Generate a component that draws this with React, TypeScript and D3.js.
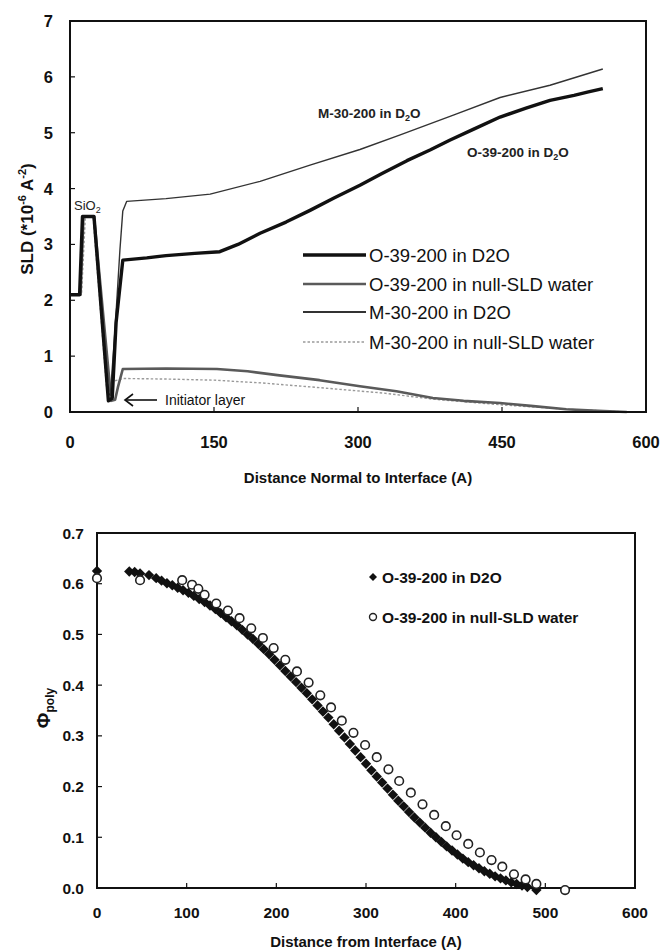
import React from "react";
import * as d3 from "d3";

// ---------- Top chart data (SLD profiles) ----------
const topXTicks = [0, 150, 300, 450, 600];
const topYTicks = [0, 1, 2, 3, 4, 5, 6, 7];

const o39D2O: [number, number][] = [
  [0, 2.1], [10, 2.1], [13, 3.5], [25, 3.5], [40, 0.2], [44, 0.25], [48, 1.6], [55, 2.72],
  [80, 2.76], [100, 2.8], [130, 2.84], [156, 2.87], [175, 3.0], [198, 3.2], [225, 3.4],
  [250, 3.61], [275, 3.83], [302, 4.06], [325, 4.27], [351, 4.5], [375, 4.69], [396, 4.87],
  [420, 5.06], [448, 5.28], [475, 5.44], [500, 5.58], [525, 5.67], [540, 5.73], [555, 5.79],
];
const o39Null: [number, number][] = [
  [0, 2.1], [11, 2.1], [14, 3.5], [25, 3.5], [43, 0.2], [47, 0.22], [50, 0.45], [55, 0.77],
  [100, 0.78], [153, 0.77], [185, 0.73], [216, 0.66], [260, 0.57], [302, 0.46], [340, 0.37],
  [378, 0.25], [410, 0.2], [448, 0.16], [480, 0.11], [517, 0.05], [550, 0.02], [580, 0.0],
];
const m30D2O: [number, number][] = [
  [0, 2.1], [10, 2.1], [13, 3.5], [25, 3.5], [39, 0.35], [42, 0.3], [47, 1.5], [52, 2.9],
  [55, 3.6], [59, 3.77], [100, 3.82], [146, 3.9], [198, 4.13], [250, 4.42], [302, 4.7],
  [344, 4.96], [400, 5.32], [448, 5.63], [500, 5.85], [555, 6.14],
];
const m30Null: [number, number][] = [
  [0, 2.1], [12, 2.1], [16, 3.5], [24, 3.5], [38, 0.45], [45, 0.55], [55, 0.6], [100, 0.59],
  [150, 0.57], [200, 0.52], [257, 0.44], [326, 0.34], [378, 0.23], [448, 0.13], [517, 0.05],
  [580, 0.0],
];
const topLegend = [
  "O-39-200 in D2O",
  "O-39-200 in null-SLD water",
  "M-30-200 in D2O",
  "M-30-200 in null-SLD water",
];

// ---------- Bottom chart data (volume fraction) ----------
const botXTicks = [0, 100, 200, 300, 400, 500, 600];
const botYTicks = [0, 0.1, 0.2, 0.3, 0.4, 0.5, 0.6, 0.7];

const phiD2O: [number, number][] = [
  [0, 0.625], [36, 0.624], [42, 0.623], [48, 0.62], [58, 0.617],
  [66, 0.611], [72, 0.606], [78, 0.601], [84, 0.597], [90, 0.592], [96, 0.587], [102, 0.582],
  [108, 0.576], [114, 0.57], [120, 0.564], [126, 0.557], [132, 0.55], [138, 0.542],
  [144, 0.534], [150, 0.526], [156, 0.518], [162, 0.509], [168, 0.5], [174, 0.491],
  [180, 0.481], [186, 0.471], [192, 0.461], [198, 0.45], [204, 0.439], [210, 0.428],
  [216, 0.417], [222, 0.406], [228, 0.395], [234, 0.384], [240, 0.372], [246, 0.36],
  [252, 0.348], [258, 0.336], [264, 0.323], [270, 0.31], [276, 0.297], [282, 0.284],
  [288, 0.271], [294, 0.258], [300, 0.245], [306, 0.232], [312, 0.22], [318, 0.208],
  [324, 0.196], [330, 0.184], [336, 0.172], [342, 0.161], [348, 0.15], [354, 0.139],
  [360, 0.129], [366, 0.119], [372, 0.109], [378, 0.1], [384, 0.091], [390, 0.082],
  [396, 0.074], [402, 0.066], [408, 0.058], [414, 0.051], [420, 0.045], [426, 0.039],
  [432, 0.033], [438, 0.028], [444, 0.023], [450, 0.019], [456, 0.015], [462, 0.011],
  [468, 0.008], [474, 0.005], [480, 0.002], [490, -0.004],
];
const phiNull: [number, number][] = [
  [0, 0.611], [48, 0.607], [95, 0.607], [106, 0.598], [113, 0.59], [120, 0.578],
  [133, 0.561], [146, 0.547], [159, 0.532], [172, 0.512], [185, 0.493], [197, 0.473],
  [210, 0.45], [223, 0.427], [236, 0.405], [249, 0.38], [261, 0.356], [273, 0.33],
  [286, 0.306], [299, 0.282], [312, 0.258], [325, 0.234], [337, 0.211], [350, 0.188],
  [363, 0.165], [376, 0.144], [389, 0.122], [401, 0.104], [414, 0.087], [427, 0.07],
  [440, 0.055], [452, 0.042], [465, 0.027], [478, 0.017], [490, 0.008], [522, -0.004],
];
const botLegend = ["O-39-200 in D2O", "O-39-200 in null-SLD water"];

const FONT = "'Liberation Sans', Arial, Helvetica, sans-serif";

const T = { left: 70, right: 646, top: 21, bottom: 412 };
const B = { left: 97, right: 635, top: 533, bottom: 888 };

const topStyles = [
  { stroke: "#111", width: 3.4, dash: undefined as string | undefined },
  { stroke: "#5a5a5a", width: 2.6, dash: undefined as string | undefined },
  { stroke: "#333", width: 1.4, dash: undefined as string | undefined },
  { stroke: "#9a9a9a", width: 1.4, dash: "2.5,2" },
];

function diamondPath(r: number) {
  return `M0,${-r}L${r},0L0,${r}L${-r},0Z`;
}

export default function App() {
  const tx = d3.scaleLinear().domain([0, 600]).range([T.left, T.right]);
  const ty = d3.scaleLinear().domain([0, 7]).range([T.bottom, T.top]);
  const bx = d3.scaleLinear().domain([0, 600]).range([B.left, B.right]);
  const by = d3.scaleLinear().domain([0, 0.7]).range([B.bottom, B.top]);

  const tLine = d3
    .line<[number, number]>()
    .x((d) => tx(d[0]))
    .y((d) => ty(d[1]));

  const topSeries = [o39D2O, o39Null, m30D2O, m30Null];
  const drawOrder = [3, 1, 2, 0];

  const legY = [255, 284, 312, 342];

  return (
    <svg
      width={664}
      height={952}
      style={{ position: "absolute", left: 0, top: 0, background: "#fff" }}
      fontFamily={FONT}
    >
      <rect x={0} y={0} width={664} height={952} fill="#fff" />

      {/* ================= TOP CHART ================= */}
      {drawOrder.map((i) => (
        <path
          key={"ts" + i}
          d={tLine(topSeries[i]) || ""}
          fill="none"
          stroke={topStyles[i].stroke}
          strokeWidth={topStyles[i].width}
          strokeDasharray={topStyles[i].dash}
          strokeLinejoin="round"
        />
      ))}
      <rect
        x={T.left}
        y={T.top}
        width={T.right - T.left}
        height={T.bottom - T.top}
        fill="none"
        stroke="#111"
        strokeWidth={2}
      />
      {topYTicks.map((v) => (
        <g key={"tyt" + v}>
          <line x1={T.left} x2={T.left + 5} y1={ty(v)} y2={ty(v)} stroke="#111" strokeWidth={1.2} />
          <text x={53} y={ty(v) + 6} textAnchor="end" fontSize={16.5} fontWeight="bold" fill="#111">
            {v}
          </text>
        </g>
      ))}
      {topXTicks.map((v) => (
        <g key={"txt" + v}>
          <line x1={tx(v)} x2={tx(v)} y1={T.bottom} y2={T.bottom - 5} stroke="#111" strokeWidth={1.2} />
          <text x={tx(v)} y={448} textAnchor="middle" fontSize={16.5} fontWeight="bold" fill="#111">
            {v}
          </text>
        </g>
      ))}
      <text x={358} y={483} textAnchor="middle" fontSize={15} fontWeight="bold" fill="#111">
        Distance Normal to Interface (A)
      </text>
      <text
        transform={`translate(33, 219) rotate(-90)`}
        textAnchor="middle"
        fontSize={17}
        fontWeight="bold"
        fill="#111"
      >
        SLD (*10
        <tspan dy={-7} fontSize={11}>-6</tspan>
        <tspan dy={7}> A</tspan>
        <tspan dy={-7} fontSize={11}>-2</tspan>
        <tspan dy={7}>)</tspan>
      </text>

      {/* top legend */}
      {topLegend.map((name, i) => (
        <g key={"tl" + i}>
          <line
            x1={303}
            x2={366}
            y1={legY[i]}
            y2={legY[i]}
            stroke={topStyles[i].stroke}
            strokeWidth={i === 2 ? 2 : topStyles[i].width}
            strokeDasharray={topStyles[i].dash}
          />
          <text x={369} y={legY[i] + 6.5} fontSize={18.5} fill="#111">
            {name}
          </text>
        </g>
      ))}

      {/* annotations */}
      <text x={318} y={118} fontSize={13.5} fontWeight="bold" fill="#222">
        M-30-200 in D
        <tspan dy={3} fontSize={9}>2</tspan>
        <tspan dy={-3}>O</tspan>
      </text>
      <text x={467} y={157} fontSize={13.5} fontWeight="bold" fill="#222">
        O-39-200 in D
        <tspan dy={3} fontSize={9}>2</tspan>
        <tspan dy={-3}>O</tspan>
      </text>
      <text x={74} y={210} fontSize={13} fill="#222">
        SiO
        <tspan dy={3} fontSize={9}>2</tspan>
      </text>
      <line x1={125} x2={157} y1={400} y2={400} stroke="#111" strokeWidth={1.6} />
      <path d="M133,394L125,400L133,406" fill="none" stroke="#111" strokeWidth={1.6} />
      <text x={165} y={405} fontSize={14} fill="#111">
        Initiator layer
      </text>

      {/* ================= BOTTOM CHART ================= */}
      <rect
        x={B.left}
        y={B.top}
        width={B.right - B.left}
        height={B.bottom - B.top}
        fill="none"
        stroke="#111"
        strokeWidth={2}
      />
      {botYTicks.map((v) => (
        <g key={"byt" + v}>
          <line x1={B.left} x2={B.left + 5} y1={by(v)} y2={by(v)} stroke="#111" strokeWidth={1.2} />
          <text x={84} y={by(v) + 5.5} textAnchor="end" fontSize={15.5} fontWeight="bold" fill="#111">
            {v.toFixed(1)}
          </text>
        </g>
      ))}
      {botXTicks.map((v) => (
        <g key={"bxt" + v}>
          <line x1={bx(v)} x2={bx(v)} y1={B.bottom} y2={B.bottom - 5} stroke="#111" strokeWidth={1.2} />
          <text x={bx(v)} y={918} textAnchor="middle" fontSize={15.5} fontWeight="bold" fill="#111">
            {v}
          </text>
        </g>
      ))}
      <text x={366} y={947} textAnchor="middle" fontSize={15} fontWeight="bold" fill="#111">
        Distance from Interface (A)
      </text>
      <text transform={`translate(50, 708) rotate(-90)`} textAnchor="middle" fontWeight="bold" fill="#111">
        <tspan fontSize={19}>Φ</tspan>
        <tspan fontSize={12} dy={4}>poly</tspan>
      </text>

      {phiD2O.map((d, i) => (
        <path
          key={"pd" + i}
          d={diamondPath(5.2)}
          transform={`translate(${bx(d[0])},${by(d[1])})`}
          fill="#111"
        />
      ))}
      {phiNull.map((d, i) => (
        <circle key={"pn" + i} cx={bx(d[0])} cy={by(d[1])} r={4.3} fill="#fff" stroke="#222" strokeWidth={1.6} />
      ))}

      {/* bottom legend */}
      <path d={diamondPath(4)} transform="translate(373,577)" fill="#111" />
      <text x={382} y={582.5} fontSize={15.5} fontWeight="bold" fill="#111">
        {botLegend[0]}
      </text>
      <circle cx={373} cy={617} r={3.5} fill="#fff" stroke="#222" strokeWidth={1.4} />
      <text x={382} y={622.5} fontSize={15.5} fontWeight="bold" fill="#111">
        {botLegend[1]}
      </text>
    </svg>
  );
}
